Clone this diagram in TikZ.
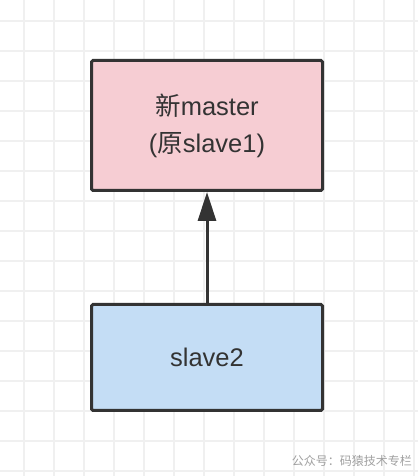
\documentclass[tikz,border=0pt]{standalone}
\usepackage{fontspec}
\setmainfont{Liberation Sans}
\newfontfamily\cjk{Noto Sans CJK SC}
\usepackage{xcolor}
\usetikzlibrary{arrows.meta,positioning}

\definecolor{edgegray}{HTML}{333333}
\definecolor{masterpink}{HTML}{F6CDD3}
\definecolor{slaveblue}{HTML}{C4DDF5}
\definecolor{gridgray}{HTML}{F0F0F0}
\definecolor{markgray}{HTML}{A0A0A0}

\begin{document}
\begin{tikzpicture}[
    x=1pt, y=1pt,
    node distance=111pt,
    box/.style={rectangle, draw=edgegray, line width=3pt, rounded corners=1.5pt, minimum width=231pt, text=edgegray, font=\fontsize{25.5}{37}\selectfont, align=center, inner sep=0pt},
    gridline/.style={gridgray, line width=1.2pt},
    arrow/.style={-{Triangle[length=29pt, width=18pt]}, draw=edgegray, line width=3pt}
]
    % Canvas and grid
    \useasboundingbox (0,0) rectangle (418,476);
    \fill[white] (0,0) rectangle (418,476);
    \foreach \gx in {24,54,...,414} \draw[gridline] (\gx,0) -- (\gx,476);
    \foreach \gy in {5,35,...,475} \draw[gridline] (0,\gy) -- (418,\gy);

    % New master
    \node[box, fill=masterpink, minimum height=130pt] (master) at (207,350.5) {{\cjk 新}master\\({\cjk 原}slave1)};

    % Slave
    \node[box, fill=slaveblue, minimum height=106pt, below=of master] (slave) {slave2};

    % Arrows
    \draw[arrow] (slave) -- (master);

    % Watermark
    \node[anchor=east, text=markgray, font=\cjk\fontsize{12}{12}\selectfont, inner sep=0pt] (mark) at (412,15) {公众号：码猿技术专栏};
\end{tikzpicture}
\end{document}
